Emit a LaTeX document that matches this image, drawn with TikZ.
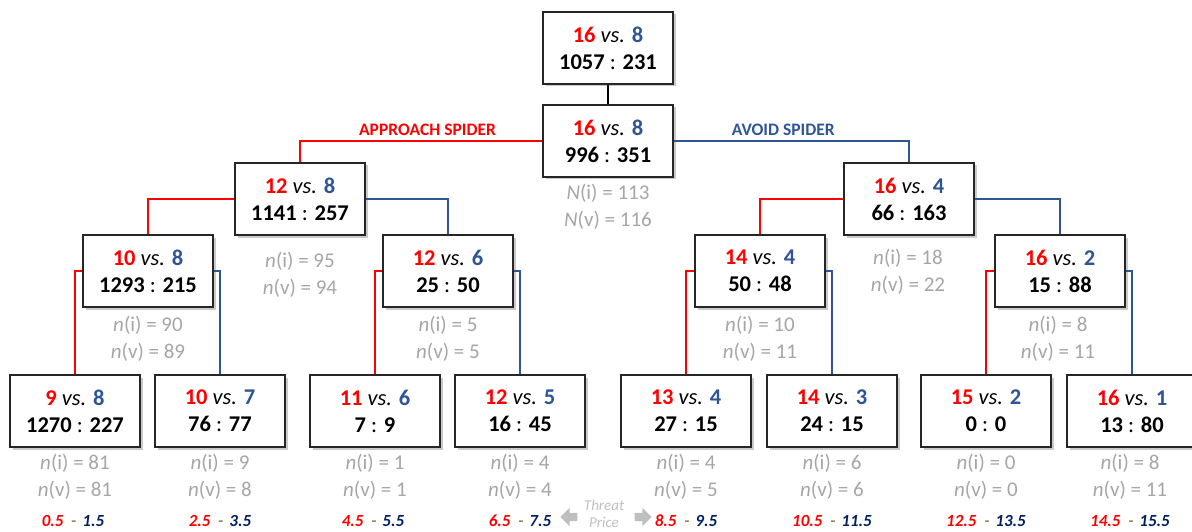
\documentclass[tikz,border=0pt]{standalone}
\usepackage{fontspec}
\setmainfont{Carlito}
\usepackage{xcolor}
\usepackage{tikz}
\usetikzlibrary{shadows}
\usetikzlibrary{shapes.arrows}
\definecolor{nred}{HTML}{FF0000}
\definecolor{nblue}{HTML}{2F5597}
\definecolor{navy}{HTML}{002060}
\definecolor{olivedash}{HTML}{948A54}
\definecolor{cntgray}{HTML}{A6A6A6}
\definecolor{arrowgray}{HTML}{BFBFBF}
\newcommand{\vsline}[2]{\textcolor{nred}{\textbf{#1}} \textit{vs.} \textcolor{nblue}{\textbf{#2}}}
\newcommand{\score}[2]{\textbf{#1} : \textbf{#2}}
\newcommand{\cnt}[3]{\textit{#1}(i) = #2\\\textit{#1}(v) = #3}
\newcommand{\price}[2]{\textcolor{nred}{#1}\hspace{0.45em}\textcolor{olivedash}{-}\hspace{0.35em}\textcolor{navy}{#2}}

\begin{document}
\begin{tikzpicture}[x=1pt, y=-1pt,
  state/.style={draw=black!85, line width=1.1pt, fill=white, minimum width=130pt,
    minimum height=72pt, align=center, font=\fontsize{22.5}{27}\selectfont,
    drop shadow={shadow xshift=2.5pt, shadow yshift=-2.5pt, opacity=0.35, fill=black!60}},
  count/.style={align=center, text=cntgray, font=\fontsize{21}{27}\selectfont, inner sep=0pt},
  pricetag/.style={font=\fontsize{17}{19}\selectfont\bfseries\itshape},
  branch/.style={font=\fontsize{17.5}{19}\selectfont\bfseries},
  redline/.style={draw=nred, line width=1.8pt},
  blueline/.style={draw=nblue, line width=1.8pt},
  hint/.style={single arrow, fill=arrowgray, minimum height=17pt, inner sep=0pt,
    inner ysep=4pt, single arrow head extend=5pt, single arrow head indent=0pt}]
  \useasboundingbox (0,0) rectangle (1192,532);

  % states
  \node[state] (top) at (608,48) {\vsline{16}{8}\\\score{1057}{231}};
  \node[state] (root) at (608,141) {\vsline{16}{8}\\\score{996}{351}};
  \node[state] (appr) at (300,199) {\vsline{12}{8}\\\score{1141}{257}};
  \node[state] (avoid) at (909,199) {\vsline{16}{4}\\\score{66}{163}};
  \node[state] (aa) at (148,271) {\vsline{10}{8}\\\score{1293}{215}};
  \node[state] (av) at (448,271) {\vsline{12}{6}\\\score{25}{50}};
  \node[state] (va) at (760,271) {\vsline{14}{4}\\\score{50}{48}};
  \node[state] (vv) at (1060,271) {\vsline{16}{2}\\\score{15}{88}};
  \node[state] (aaa) at (75,411) {\vsline{9}{8}\\\score{1270}{227}};
  \node[state] (aav) at (220,411) {\vsline{10}{7}\\\score{76}{77}};
  \node[state] (ava) at (375,411) {\vsline{11}{6}\\\score{7}{9}};
  \node[state] (avv) at (520,411) {\vsline{12}{5}\\\score{16}{45}};
  \node[state] (vaa) at (686,411) {\vsline{13}{4}\\\score{27}{15}};
  \node[state] (vav) at (832,411) {\vsline{14}{3}\\\score{24}{15}};
  \node[state] (vva) at (986,411) {\vsline{15}{2}\\\score{0}{0}};
  \node[state] (vvv) at (1132,411) {\vsline{16}{1}\\\score{13}{80}};

  % counts
  \node[count] (nroot) at (608,206.5) {\cnt{N}{113}{116}};
  \node[count] (nappr) at (300,275) {\cnt{n}{95}{94}};
  \node[count] (navoid) at (908,272) {\cnt{n}{18}{22}};
  \node[count] (naa) at (148,338.5) {\cnt{n}{90}{89}};
  \node[count] (nav) at (448,338.5) {\cnt{n}{5}{5}};
  \node[count] (nva) at (760,338.5) {\cnt{n}{10}{11}};
  \node[count] (nvv) at (1058,338.5) {\cnt{n}{8}{11}};
  \node[count] (naaa) at (75,476.5) {\cnt{n}{81}{81}};
  \node[count] (naav) at (220,476.5) {\cnt{n}{9}{8}};
  \node[count] (nava) at (375,476.5) {\cnt{n}{1}{1}};
  \node[count] (navv) at (520,476.5) {\cnt{n}{4}{4}};
  \node[count] (nvaa) at (686,476.5) {\cnt{n}{4}{5}};
  \node[count] (nvav) at (832,476.5) {\cnt{n}{6}{6}};
  \node[count] (nvva) at (986,476.5) {\cnt{n}{0}{0}};
  \node[count] (nvvv) at (1130,476.5) {\cnt{n}{8}{11}};

  % price ranges
  \node[pricetag] (paaa) at (73,521) {\price{0.5}{1.5}};
  \node[pricetag] (paav) at (220,521) {\price{2.5}{3.5}};
  \node[pricetag] (pava) at (373,521) {\price{4.5}{5.5}};
  \node[pricetag] (pavv) at (520,521) {\price{6.5}{7.5}};
  \node[pricetag] (pvaa) at (686,521) {\price{8.5}{9.5}};
  \node[pricetag] (pvav) at (832,521) {\price{10.5}{11.5}};
  \node[pricetag] (pvva) at (986,521) {\price{12.5}{13.5}};
  \node[pricetag] (pvvv) at (1130,521) {\price{14.5}{15.5}};

  % threat price
  \node[hint, shape border rotate=180] (tleft) at (571,517) {};
  \node[hint] (tright) at (641,517) {};
  \node[text=arrowgray, font=\fontsize{15}{17}\selectfont\itshape, align=center, inner sep=0pt]
    (threat) at (604,514) {Threat\\Price};

  % connectors
  \draw[line width=1.8pt] (top) -- (root);
  \draw[redline] (root.west) -| node[branch, text=nred, pos=0.237, above=1pt] {APPROACH SPIDER} (appr.north);
  \draw[blueline] (root.east) -| node[branch, text=nblue, pos=0.233, above=1pt] {AVOID SPIDER} (avoid.north);
  \draw[redline] (appr.west) -| (aa.north);
  \draw[blueline] (appr.east) -| (av.north);
  \draw[redline] (avoid.west) -| (va.north);
  \draw[blueline] (avoid.east) -| (vv.north);
  \draw[redline] (aa.west) -| (aaa.north);
  \draw[blueline] (aa.east) -| (aav.north);
  \draw[redline] (av.west) -| (ava.north);
  \draw[blueline] (av.east) -| (avv.north);
  \draw[redline] (va.west) -| (vaa.north);
  \draw[blueline] (va.east) -| (vav.north);
  \draw[redline] (vv.west) -| (vva.north);
  \draw[blueline] (vv.east) -| (vvv.north);
\end{tikzpicture}
\end{document}
